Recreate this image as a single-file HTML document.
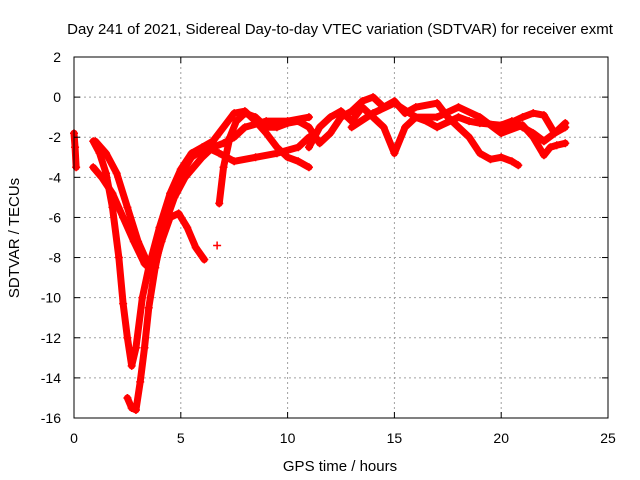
<!DOCTYPE html>
<html><head><meta charset="utf-8"><style>
body{margin:0;background:#fff}
svg{display:block;font-family:"Liberation Sans",sans-serif}
</style></head><body>
<svg id="chart" width="640" height="480">
<rect width="640" height="480" fill="#fff"/>
<g id="grid"></g><g id="series"></g><g id="axes"></g>
</svg>
<script>
const xTicks=[0,5,10,15,20,25];
const yTicks=[2,0,-2,-4,-6,-8,-10,-12,-14,-16];
const trackStart=[[0,-1.8],[0.05,-2.5],[0.1,-3.5]];
const trackA=[[0.9,-2.2],[1.2,-2.8],[1.5,-3.8],[1.8,-5.5],[2.1,-8],[2.3,-10.3],[2.5,-12],[2.7,-13.4],[2.9,-12.5],[3.2,-10],[3.5,-8.5],[4,-6.5],[4.5,-4.8],[5,-3.6],[5.5,-2.8],[6,-2.5],[6.5,-2.2],[7,-1.5],[7.5,-0.8],[8,-0.7],[8.5,-1.2],[9,-1.8],[9.5,-2.5],[10,-3],[10.5,-3.2],[11,-3.5]];
const trackB=[[2.5,-15],[2.7,-15.5],[2.9,-15.6],[3.1,-14.2],[3.3,-12.5],[3.5,-10.5],[3.8,-8.5],[4.2,-6.5],[4.7,-5],[5.2,-4],[6,-3],[6.5,-2.5],[7,-2.3],[7.5,-2],[8,-1.5],[9,-1.2],[10,-1.2],[11,-1]];
const trackC=[[0.9,-3.5],[1.3,-4],[1.8,-4.8],[2.3,-6],[2.8,-7.2],[3.3,-8.3],[3.7,-8.7],[4.1,-7.2],[4.5,-6],[4.9,-5.8],[5.3,-6.5],[5.7,-7.5],[6.1,-8.1]];
const trackD=[[1,-2.2],[1.5,-2.8],[2,-3.8],[2.5,-5.5],[3,-7.2],[3.5,-8.4],[3.8,-8.5],[4.2,-6.2],[4.8,-4.2],[5.5,-3],[6.2,-2.5],[6.8,-2.8],[7.5,-3.2],[8.5,-3],[9.5,-2.8],[10.5,-2.5],[11,-2]];
const trackE=[[6.8,-5.3],[7,-3.5],[7.3,-2],[7.6,-1.2],[8,-0.8],[8.5,-1],[9,-1.5],[9.5,-1.5],[10,-1.3],[10.5,-1.2],[11,-1.5],[11.5,-2.3],[12,-1.8],[12.5,-1],[13,-0.7],[13.5,-0.2],[14,0],[14.5,-0.5],[15,-0.2],[15.5,-0.8],[16,-0.5],[17,-0.3],[17.5,-1],[18,-1.5],[18.5,-2],[19,-2.8],[19.5,-3.1],[20,-3],[20.5,-3.2],[20.8,-3.4]];
const trackF=[[11,-2.5],[11.5,-1.5],[12,-1],[12.5,-0.7],[13,-1.2],[13.5,-0.5],[14,-1],[14.5,-1.5],[15,-2.8],[15.5,-1.5],[16,-1],[16.5,-1.2],[17,-1.5],[18,-1],[18.5,-1.2],[19,-1.3],[20,-1.4],[20.5,-1.2],[21,-1.5],[21.5,-1.8],[22,-2.2],[22.5,-1.8],[23,-1.3]];
const trackG=[[13,-1.5],[14,-0.8],[15,-0.3],[16,-1],[17,-1],[18,-0.5],[19,-1],[20,-1.8],[21,-1.4],[21.5,-2],[22,-2.9],[22.3,-2.5],[22.6,-2.4],[23,-2.3]];
const trackH=[[19,-1.2],[20,-1.5],[21,-1],[21.5,-0.8],[22,-0.9],[22.5,-1.8],[23,-1.5]];
const trackIsolated=[[6.7,-7.4]];
const tracks=[trackStart,trackA,trackB,trackC,trackD,trackE,trackF,trackG,trackH,trackIsolated];

const NS="http://www.w3.org/2000/svg";
const X0=74,X1=608,Y0=57,Y1=418;
const xs=t=>X0+(t-0)/(25-0)*(X1-X0);
const ys=v=>Y0+(2-v)/(2-(-16))*(Y1-Y0);
function mk(tag,attrs,parent){const e=document.createElementNS(NS,tag);for(const k in attrs)e.setAttribute(k,attrs[k]);parent.appendChild(e);return e;}
const grid=document.getElementById('grid'),axes=document.getElementById('axes'),ser=document.getElementById('series');
xTicks.forEach(t=>{
 if(t>0&&t<25){const l=mk('line',{x1:xs(t),x2:xs(t),y1:Y0,y2:Y1,stroke:'#a0a0a0','stroke-dasharray':'2,3'},grid);
 
 }
 mk('line',{x1:xs(t),x2:xs(t),y1:Y1,y2:Y1-6,stroke:'#000'},axes);
 mk('line',{x1:xs(t),x2:xs(t),y1:Y0,y2:Y0+6,stroke:'#000'},axes);
 const tx=mk('text',{x:xs(t),y:Y1+25,'text-anchor':'middle','font-size':'14'},axes);tx.textContent=t;
 
 
});
yTicks.forEach(v=>{
 if(v<2&&v>-16){const l=mk('line',{x1:X0,x2:X1,y1:ys(v),y2:ys(v),stroke:'#a0a0a0','stroke-dasharray':'2,3'},grid);
 
 }
 mk('line',{x1:X0,x2:X0+6,y1:ys(v),y2:ys(v),stroke:'#000'},axes);
 mk('line',{x1:X1,x2:X1-6,y1:ys(v),y2:ys(v),stroke:'#000'},axes);
 const tx=mk('text',{x:X0-13,y:ys(v)+5,'text-anchor':'end','font-size':'14'},axes);tx.textContent=v;
 
 
});
const frame=mk('rect',{x:X0,y:Y0,width:X1-X0,height:Y1-Y0,fill:'none',stroke:'#000'},axes);


tracks.forEach(tr=>{
 const pts=tr.map(p=>xs(p[0])+','+ys(p[1])).join(' ');
 const pl=mk('polyline',{points:pts,fill:'none',stroke:'#ff0000','stroke-width':7,'stroke-linejoin':'round','stroke-linecap':'round'},ser);
 
 
 tr.forEach(p=>{
  const x=xs(p[0]),y=ys(p[1]);
  const m=mk('path',{d:`M${x-4},${y}H${x+4}M${x},${y-4}V${y+4}`,stroke:'#ff0000','stroke-width':1.5},ser);
  
  
 });
});
const title=mk('text',{x:340,y:34,'text-anchor':'middle','font-size':'15'},axes);
title.textContent='Day 241 of 2021, Sidereal Day-to-day VTEC variation (SDTVAR) for receiver exmt';


const xl=mk('text',{x:340,y:471,'text-anchor':'middle','font-size':'15'},axes);
xl.textContent='GPS time / hours';


const yl=mk('text',{x:19,y:238,'text-anchor':'middle','font-size':'15',transform:'rotate(-90 19 238)'},axes);
yl.textContent='SDTVAR / TECUs';


</script>
</body></html>
